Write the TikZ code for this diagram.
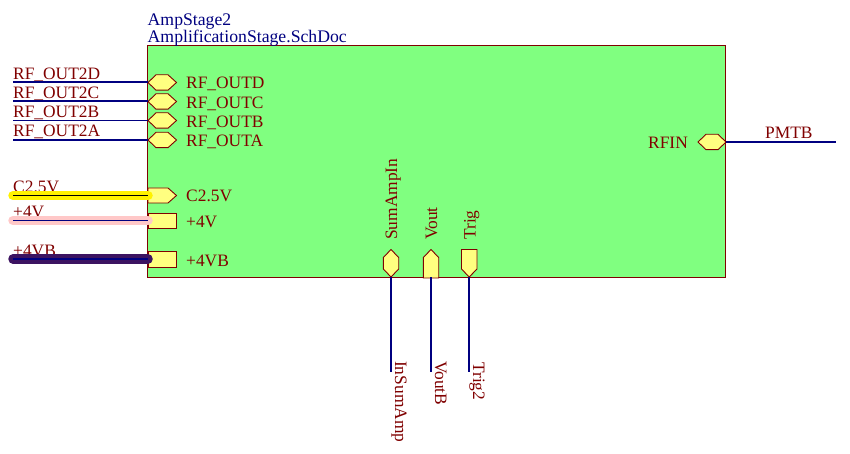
\documentclass[tikz,border=0pt]{standalone}
\usepackage{fontspec}
\setmainfont{Liberation Serif}
\definecolor{sheetgreen}{HTML}{80FF80}
\definecolor{pinyellow}{HTML}{FFFF80}
\definecolor{darkred}{HTML}{800000}
\definecolor{navy}{HTML}{000080}
\definecolor{hlpink}{HTML}{FFC8C8}
\definecolor{hlpurple}{HTML}{3C1361}
\tikzset{
  sheet/.style={draw=darkred,fill=sheetgreen,line width=0.9pt},
  pinshape/.style={draw=darkred,fill=pinyellow,line width=0.9pt,line join=miter},
  wire/.style={draw=navy,line width=1.9pt},
  thinwire/.style={draw=navy,line width=1.2pt},
  hl/.style={line width=9.5pt,line cap=round},
  lbl/.style={text=darkred,font=\fontsize{17.4}{19}\selectfont,inner sep=0pt,anchor=base west},
  lblv/.style={lbl,rotate=90},
  lbld/.style={lbl,rotate=-90},
  title/.style={text=navy,font=\fontsize{17.7}{19}\selectfont,inner sep=0pt,anchor=base west}
}
% horizontal pins: left x, centre y
\newcommand{\hexpin}[2]{\draw[pinshape] (#1,#2) -- (#1+8,#2-7.7) -- (#1+20,#2-7.7) -- (#1+28.5,#2) -- (#1+20,#2+7.7) -- (#1+8,#2+7.7) -- cycle;}
\begin{document}
\begin{tikzpicture}[x=1pt,y=-1pt]
\useasboundingbox (0,0) rectangle (850,454);
\fill[white] (0,0) rectangle (850,454);
\node[sheet,anchor=north west,minimum width=578pt,minimum height=231.5pt,inner sep=0pt] (block) at (147,45.5) {};
\node[title] (tname) at (147.5,26) {AmpStage2};
\node[title] (tfile) at (147.5,43) {AmplificationStage.SchDoc};

% net labels left
\node[lbl] (n2d) at (13,80) {RF\_OUT2D};
\node[lbl] (n2c) at (13,99) {RF\_OUT2C};
\node[lbl] (n2b) at (13,118) {RF\_OUT2B};
\node[lbl] (n2a) at (13,137) {RF\_OUT2A};
\node[lbl] (nc) at (13,192.5) {C2.5V};
\node[lbl] (n4) at (13,218) {+4V};
\node[lbl] (n4b) at (13,256) {+4VB};

% coordinates
\foreach \nm/\y in {d/82,c/101,b/120.5,a/140,cv/195.5,fv/220.5,fb/259}{
  \coordinate (w\nm) at (13,\y);
  \coordinate (p\nm) at (148,\y);
}
\coordinate (wrf) at (836,142);
\coordinate (prf) at (726,142);
\coordinate (ws) at (391,372);
\coordinate (ps) at (391,277);
\coordinate (wv) at (431,372);
\coordinate (pv) at (431,277);
\coordinate (wt) at (469,372);
\coordinate (pt) at (469,277);

% pins left
\hexpin{148}{82.5}
\hexpin{148}{101.5}
\hexpin{148}{120.5}
\hexpin{148}{140}
\draw[pinshape] (148,188) -- (168,188) -- (176.5,195.5) -- (168,203) -- (148,203) -- cycle;
\draw[pinshape] (148,213) rectangle (176.5,228);
\draw[pinshape] (148,251.5) rectangle (176.5,267);
% right pin
\draw[pinshape] (698,142) -- (706,134.3) -- (718,134.3) -- (726,142) -- (718,149.7) -- (706,149.7) -- cycle;
% bottom pins
\draw[pinshape] (391,249.5) -- (398.7,257.5) -- (398.7,269) -- (391,277) -- (383.3,269) -- (383.3,257.5) -- cycle;
\draw[pinshape] (431,249.5) -- (438.7,257.5) -- (438.7,278) -- (423.3,278) -- (423.3,257.5) -- cycle;
\draw[pinshape] (461.5,249.5) -- (477,249.5) -- (477,269) -- (469.2,277) -- (461.5,269) -- cycle;

% highlights
\draw[hl,yellow] (wcv) -- (pcv);
\draw[hl,hlpink] (wfv) -- (pfv);
\draw[hl,hlpurple] (wfb) -- (pfb);

% wires
\foreach \nm in {d,c,b,a}{\draw[wire] (w\nm) -- (p\nm);}
\draw[thinwire,black] (wcv) -- (pcv);
\draw[thinwire] (wfv) -- (pfv);
\draw[thinwire] (wfb) -- (pfb);
\draw[wire] (prf) -- (wrf);
\draw[wire] (ps) -- (ws);
\draw[wire] (pv) -- (wv);
\draw[wire] (pt) -- (wt);

% pin labels
\node[lbl] (ld) at (186,89) {RF\_OUTD};
\node[lbl] (lc) at (186,108.5) {RF\_OUTC};
\node[lbl] (lb) at (186,128) {RF\_OUTB};
\node[lbl] (la) at (186,147) {RF\_OUTA};
\node[lbl] (lcv) at (186,202) {C2.5V};
\node[lbl] (lfv) at (186,227) {+4V};
\node[lbl] (lfb) at (186,266) {+4VB};
\node[lbl] (lrf) at (648,149) {RFIN};
\node[lbl] (npm) at (765,139) {PMTB};
\node[lblv,anchor=base west] (ls) at (397,240) {SumAmpIn};
\node[lblv,anchor=base west] (lv) at (437,240) {Vout};
\node[lblv,anchor=base west] (lt) at (475.5,240) {Trig};
\node[lbld,anchor=base west] (ns) at (395,361) {InSumAmp};
\node[lbld,anchor=base west] (nv) at (435,361) {VoutB};
\node[lbld,anchor=base west] (ntr) at (473,362) {Trig2};
\end{tikzpicture}
\end{document}
